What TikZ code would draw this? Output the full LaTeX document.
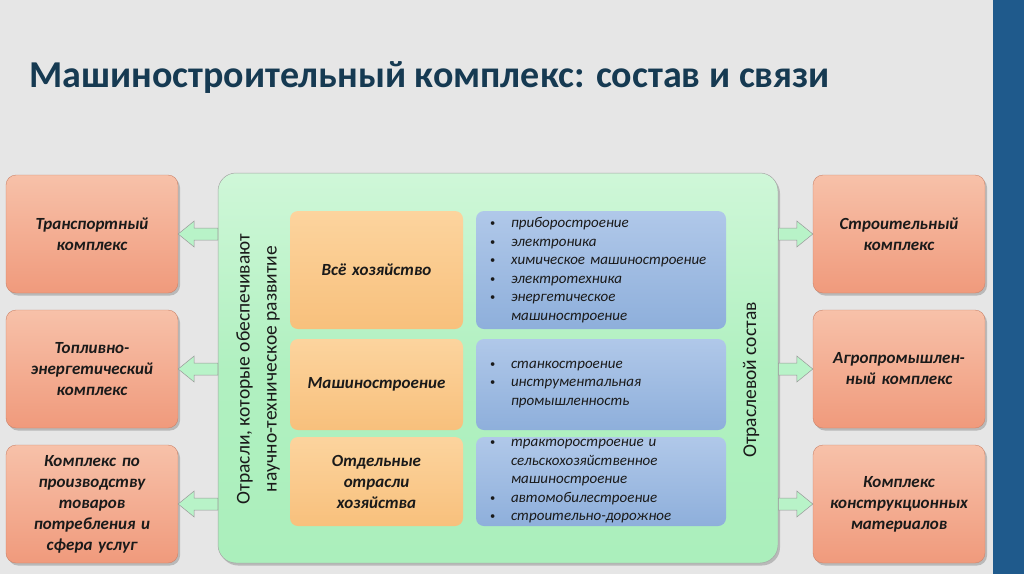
\documentclass[tikz,border=0pt]{standalone}
\usepackage{fontspec}
\setmainfont{Carlito}
\usetikzlibrary{shadows,calc}
\definecolor{bg}{HTML}{E6E6E6}
\definecolor{bar}{HTML}{1F5A8C}
\definecolor{titlec}{HTML}{163A52}
\definecolor{salT}{HTML}{F7C1A9}
\definecolor{salB}{HTML}{F09A7C}
\definecolor{grT}{HTML}{CFF7D8}
\definecolor{grB}{HTML}{ABEFBC}
\definecolor{orT}{HTML}{FCD49E}
\definecolor{orB}{HTML}{F8C07C}
\definecolor{blT}{HTML}{B0C8E9}
\definecolor{blB}{HTML}{8EAFDB}
\definecolor{arr}{HTML}{B8F3C8}
\definecolor{txt}{HTML}{1A1A1A}
\newcommand{\bli}[1]{\makebox[21pt][l]{\raisebox{1pt}{\upshape\fontsize{10.5}{10}\selectfont\textbullet}}#1\\}
\newcommand{\blc}[1]{\hspace*{21pt}#1\\}
\begin{document}
\begin{tikzpicture}[x=1pt,y=-1pt,
  shad/.style={drop shadow={shadow xshift=2pt,shadow yshift=-2.5pt,opacity=0.35,fill=black!60}},
  side/.style={shad,rounded corners=10pt,top color=salT,bottom color=salB,draw=salB!85!black,line width=0.4pt,
    minimum width=172pt,minimum height=118pt,text width=166pt,align=center,inner sep=0pt,
    font=\fontsize{17}{21}\selectfont\bfseries\itshape,text=txt},
  grn/.style={shad,rounded corners=18pt,top color=grT,bottom color=grB,middle color=grB!85!grT,draw=black!35,line width=0.5pt,
    minimum width=560pt,minimum height=390pt,inner sep=0pt},
  org/.style={rounded corners=8pt,top color=orT,bottom color=orB,draw=none,
    minimum width=173pt,text width=166pt,align=center,inner sep=0pt,
    font=\fontsize{17}{21}\selectfont\bfseries\itshape,text=txt},
  blu/.style={rounded corners=8pt,top color=blT,bottom color=blB,draw=none,
    minimum width=250pt,text width=222pt,align=left,inner xsep=14pt,inner ysep=0pt,
    font=\fontsize{15}{18.5}\selectfont\itshape,text=txt},
  vtext/.style={rotate=90,align=center,font=\fontsize{19.5}{27}\selectfont,text=txt},
  barrow/.style={fill=arr,draw=black!40,line width=0.5pt,line join=miter}
]
\useasboundingbox (0,0) rectangle (1024,574);
\fill[bg] (0,0) rectangle (1024,574);
\fill[bar] (993,0) rectangle (1024,574);

\node[anchor=base west,font=\fontsize{38}{40}\selectfont\bfseries,text=titlec] (title) at (26,87)
  {Машиностроительный комплекс: состав и связи};

% central green block
\node[grn] (g) at (498,368) {};

% left boxes
\node[side] (l1) at (92,234) {Транспортный\\комплекс};
\node[side] (l2) at (92,369) {Топливно-\\энергетический\\комплекс};
\node[side] (l3) at (92,504) {Комплекс по\\производству\\товаров\\потребления и\\сфера услуг};

% right boxes
\node[side] (r1) at (899,234) {Строительный\\комплекс};
\node[side] (r2) at (899,369) {Агропромышлен-\\ный комплекс};
\node[side] (r3) at (899,504) {Комплекс\\конструкционных\\материалов};

% orange boxes
\node[org,minimum height=118pt] (o1) at (376.5,270) {Всё хозяйство};
\node[org,minimum height=91pt] (o2) at (376.5,384.5) {Машиностроение};
\node[org,minimum height=89pt] (o3) at (376.5,481.5) {Отдельные\\отрасли\\хозяйства};

% blue boxes
\node[blu,minimum height=118pt] (b1) at (601,270) {%
  \bli{приборостроение}\bli{электроника}\bli{химическое машиностроение}\bli{электротехника}\bli{энергетическое}\blc{машиностроение}};
\node[blu,minimum height=91pt] (b2) at (601,384.5) {%
  \bli{станкостроение}\bli{инструментальная}\blc{промышленность}};
\node[blu,minimum height=89pt] (b3) at (601,481.5) {%
  \bli{тракторостроение и}\blc{сельскохозяйственное}\blc{машиностроение}\bli{автомобилестроение}\bli{строительно-дорожное}};

% rotated labels
\node[vtext] (vl) at (258,369) {Отрасли, которые обеспечивают\\научно-техническое развитие};
\node[vtext] (vr) at (751,380) {Отраслевой состав};

% block arrows left
\foreach \b in {l1,l2,l3}{
  \draw[barrow] (\b.east) -- ($(\b.east)+(16,-13)$) -- ($(\b.east)+(16,-6)$)
    -- ($(g.west |- \b.east)+(0,-6)$) -- ($(g.west |- \b.east)+(0,6)$)
    -- ($(\b.east)+(16,6)$) -- ($(\b.east)+(16,13)$) -- cycle;
}
% block arrows right
\foreach \b in {r1,r2,r3}{
  \draw[barrow] (\b.west) -- ($(\b.west)+(-16,-13)$) -- ($(\b.west)+(-16,-6)$)
    -- ($(g.east |- \b.west)+(0,-6)$) -- ($(g.east |- \b.west)+(0,6)$)
    -- ($(\b.west)+(-16,6)$) -- ($(\b.west)+(-16,13)$) -- cycle;
}
\end{tikzpicture}
\end{document}
